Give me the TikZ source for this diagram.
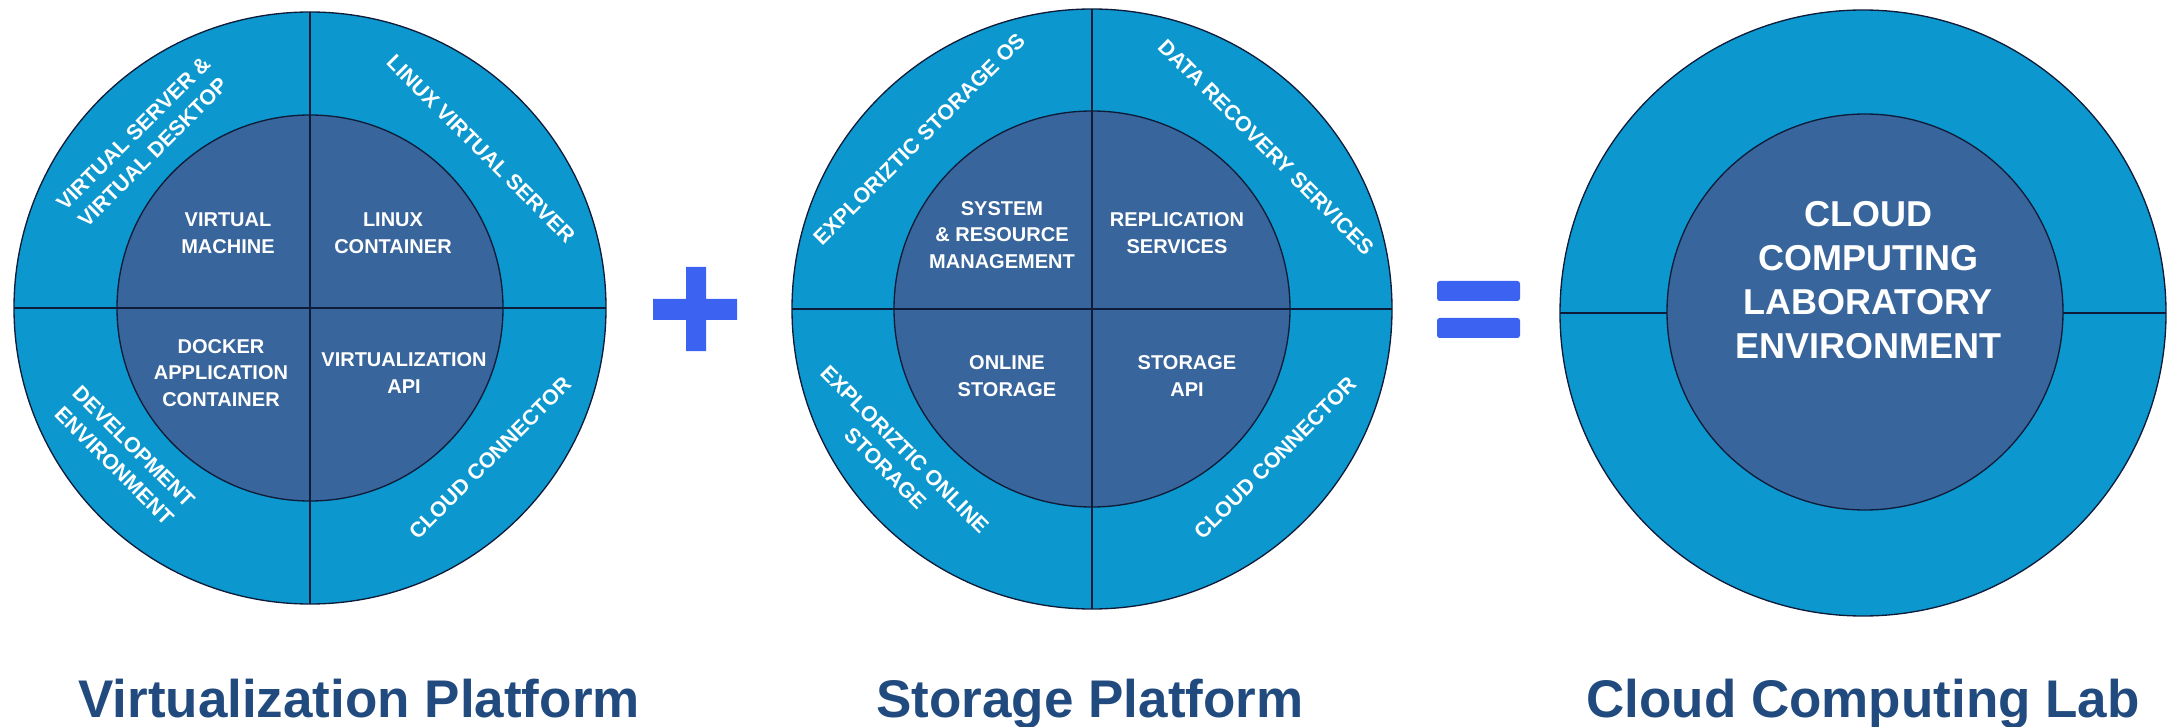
\documentclass[tikz,border=0pt]{standalone}
\usepackage{fontspec}
\setmainfont{Liberation Sans}
\definecolor{ringblue}{RGB}{12,152,206}
\definecolor{coreblue}{RGB}{56,101,155}
\definecolor{edgenavy}{RGB}{14,28,58}
\definecolor{titleblue}{RGB}{33,74,126}
\definecolor{signblue}{RGB}{59,98,240}
\begin{document}
\begin{tikzpicture}[x=0.75pt,y=0.75pt,yscale=-1,xscale=1,
  ringtxt/.style={font=\fontsize{16}{20.5}\selectfont\bfseries,color=white,align=center,inner sep=0.75pt},
  coretxt/.style={font=\fontsize{15}{20}\selectfont\bfseries,color=white,align=center,inner sep=0.75pt},
  bigtxt/.style={font=\fontsize{27}{33}\selectfont\bfseries,color=white,align=center,inner sep=0.75pt},
  titletxt/.style={font=\fontsize{39.75}{44}\selectfont\bfseries,color=titleblue,anchor=base,inner sep=0.75pt},
  ringfill/.style={draw=edgenavy,fill=ringblue,line width=1pt},
  corefill/.style={draw=edgenavy,fill=coreblue,line width=1pt},
  crossline/.style={draw=edgenavy,line width=1.2pt},
  signfill/.style={fill=signblue,draw=none}]
%set diagram left start at 0, and has height of 727
\useasboundingbox (0,0) rectangle (2167,727);

%Shape: Circle [id:virt_outer] 
\draw [ringfill] (310,308) circle (222pt) ;
%Shape: Circle [id:virt_core] 
\draw [corefill] (310,308) circle (144.75pt) ;
\draw [crossline] (14,308) -- (606,308) (310,12) -- (310,604) ;
%Shape: Circle [id:stor_outer] 
\draw [ringfill] (1092,309) circle (225pt) ;
%Shape: Circle [id:stor_core] 
\draw [corefill] (1092,309) circle (148.5pt) ;
\draw [crossline] (792,309) -- (1392,309) (1092,9) -- (1092,609) ;
%Shape: Circle [id:lab_outer] 
\draw [ringfill] (1863,313) circle (227.25pt) ;
\draw [crossline] (1560,313) -- (2166,313) ;
%Shape: Circle [id:lab_core] 
\draw [corefill] (1865,312) circle (148.5pt) ;
%Shape: Plus [id:plus_sign] 
\fill [signfill] (653,299) rectangle (737,320) (686,267) rectangle (706,351) ;
%Shape: Equal [id:equal_sign] 
\fill [signfill,rounded corners=2] (1437,281) rectangle (1520,301) ;
\fill [signfill,rounded corners=2] (1437,318) rectangle (1520,338) ;

% Text Node
\draw (143,143) node [ringtxt,rotate=45] (vsd) {VIRTUAL SERVER \&\\VIRTUAL DESKTOP};
% Text Node
\draw (481,149) node [ringtxt,rotate=-45] (lvs) {LINUX VIRTUAL SERVER};
% Text Node
\draw (124,456) node [ringtxt,rotate=-45] (devEnv) {DEVELOPMENT\\ENVIRONMENT};
% Text Node
\draw (490,458) node [ringtxt,rotate=45] (cloudConA) {CLOUD CONNECTOR};
% Text Node
\draw (228,233) node [coretxt] (vm) {VIRTUAL\\MACHINE};
% Text Node
\draw (393,233) node [coretxt] (lxc) {LINUX\\CONTAINER};
% Text Node
\draw (221,373) node [coretxt] (dockerApp) {DOCKER\\APPLICATION\\CONTAINER};
% Text Node
\draw (404,373) node [coretxt] (virtApi) {VIRTUALIZATION\\API};
% Text Node
\draw (919,139) node [ringtxt,rotate=45] (storOs) {EXPLORIZTIC STORAGE OS};
% Text Node
\draw (1266,147) node [ringtxt,rotate=-45] (dataRec) {DATA RECOVERY SERVICES};
% Text Node
\draw (895,459) node [ringtxt,rotate=-45] (onlineStor) {EXPLORIZTIC ONLINE\\STORAGE};
% Text Node
\draw (1275,458) node [ringtxt,rotate=45] (cloudConB) {CLOUD CONNECTOR};
% Text Node
\draw (1002,235) node [coretxt] (sysRes) {SYSTEM\\\& RESOURCE\\MANAGEMENT};
% Text Node
\draw (1177,233) node [coretxt] (repl) {REPLICATION\\SERVICES};
% Text Node
\draw (1007,376) node [coretxt] (online) {ONLINE\\STORAGE};
% Text Node
\draw (1187,376) node [coretxt] (storApi) {STORAGE\\API};
% Text Node
\draw (1868,280) node [bigtxt] (labEnv) {CLOUD\\COMPUTING\\LABORATORY\\ENVIRONMENT};
% Text Node
\draw (359,717) node [titletxt] (virtTitle) {Virtualization Platform};
% Text Node
\draw (1090,717) node [titletxt] (storTitle) {Storage Platform};
% Text Node
\draw (1863,717) node [titletxt] (labTitle) {Cloud Computing Lab};

\end{tikzpicture}
\end{document}
